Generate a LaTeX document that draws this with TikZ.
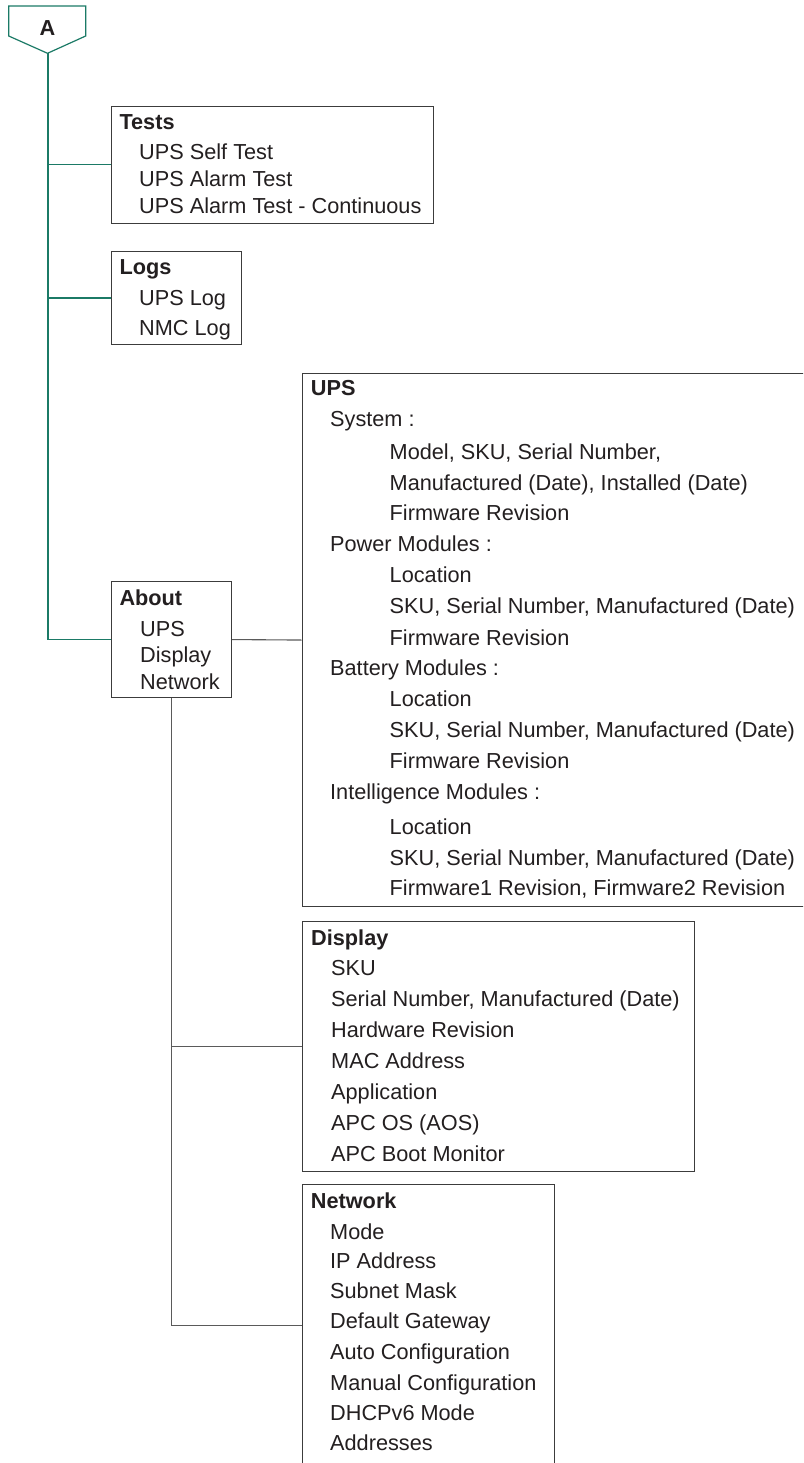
\documentclass[tikz,border=0pt]{standalone}
\usepackage{fontspec}
\setmainfont{Liberation Sans}
\definecolor{tealg}{RGB}{27,122,102}
\definecolor{txt}{RGB}{35,31,32}
\definecolor{boxc}{RGB}{60,60,60}
\definecolor{linec}{RGB}{90,90,90}
\begin{document}
\begin{tikzpicture}[x=1pt,y=-1pt,
  box/.style={draw=boxc,line width=1.1pt,inner sep=0,anchor=north west},
  lbl/.style={text=txt,inner sep=0,anchor=base west,font=\fontsize{21.7}{26}\selectfont},
  hd/.style={text=txt,inner sep=0,anchor=base west,font=\fontsize{21.7}{26}\selectfont\bfseries},
  gline/.style={draw=tealg,line width=1.2pt},
  spine/.style={draw=tealg,line width=2pt},
  kline/.style={draw=linec,line width=1.1pt}]
\useasboundingbox (0,0) rectangle (803,1463);
\clip (0,0) rectangle (803,1463);
\fill[white] (0,0) rectangle (803,1463);

% A marker
\coordinate (atip) at (47.5,53.3);
\draw[gline] (8.7,6) -- (85.7,6) -- (85.7,36) -- (atip) -- (8.7,36) -- cycle;
\node[hd,anchor=base] (alabel) at (47.5,36) {A};

% boxes
\node[box,minimum width=321.7pt,minimum height=117pt] (tests) at (111,105.7) {};
\node[box,minimum width=129.6pt,minimum height=93.6pt] (logs) at (111,250.7) {};
\node[box,minimum width=119.7pt,minimum height=116pt] (about) at (111,581) {};
\node[box,minimum width=540pt,minimum height=533.6pt] (ups) at (301.7,372.7) {};
\node[box,minimum width=391.7pt,minimum height=249.7pt] (display) at (302,921) {};
\node[box,minimum width=252.3pt,minimum height=281.4pt] (network) at (301.7,1184.3) {};

% connectors
\draw[spine] (atip) -- (atip |- about.west);
\draw[gline] (atip |- tests.west) -- (tests.west);
\draw[gline] (atip |- logs.west) -- (logs.west);
\draw[gline] (atip |- about.west) -- (about.west);
\draw[kline] (about.east) -- (ups.west);
\draw[kline] (about.south) |- (display.west);
\draw[kline] (about.south) |- (network.west);

% Tests
\node[hd]  (t0) at (119.3,129.3) {Tests};
\node[lbl] (t1) at (139,160) {UPS Self Test};
\node[lbl] (t2) at (139,186.7) {UPS Alarm Test};
\node[lbl] (t3) at (139,213.3) {UPS Alarm Test - Continuous};

% Logs
\node[hd]  (l0) at (119.3,274.3) {Logs};
\node[lbl] (l1) at (139,305) {UPS Log};
\node[lbl] (l2) at (139,335) {NMC Log};

% About
\node[hd]  (a0) at (119.3,605.7) {About};
\node[lbl] (a1) at (140,636.7) {UPS};
\node[lbl] (a2) at (140,662.7) {Display};
\node[lbl] (a3) at (140,689) {Network};

% UPS
\node[hd]  (u0) at (310.7,395.7) {UPS};
\node[lbl] (u1) at (330,426.7) {System :};
\node[lbl] (u2) at (389.5,459) {Model, SKU, Serial Number,};
\node[lbl] (u3) at (389.5,490) {Manufactured (Date), Installed (Date)};
\node[lbl] (u4) at (389.5,520) {Firmware Revision};
\node[lbl] (u5) at (330,551.7) {Power Modules :};
\node[lbl] (u6) at (389.5,582.7) {Location};
\node[lbl] (u7) at (389.5,613.5) {SKU, Serial Number, Manufactured (Date)};
\node[lbl] (u8) at (389.5,645) {Firmware Revision};
\node[lbl] (u9) at (330,675.5) {Battery Modules :};
\node[lbl] (u10) at (389.5,706.5) {Location};
\node[lbl] (u11) at (389.5,737.5) {SKU, Serial Number, Manufactured (Date)};
\node[lbl] (u12) at (389.5,768.5) {Firmware Revision};
\node[lbl] (u13) at (330,799.5) {Intelligence Modules :};
\node[lbl] (u14) at (389.5,834.5) {Location};
\node[lbl] (u15) at (389.5,865) {SKU, Serial Number, Manufactured (Date)};
\node[lbl] (u16) at (389.5,895) {Firmware1 Revision, Firmware2 Revision};

% Display
\node[hd]  (d0) at (311,945) {Display};
\node[lbl] (d1) at (331,975) {SKU};
\node[lbl] (d2) at (331,1006) {Serial Number, Manufactured (Date)};
\node[lbl] (d3) at (331,1037) {Hardware Revision};
\node[lbl] (d4) at (331,1068) {MAC Address};
\node[lbl] (d5) at (331,1099) {Application};
\node[lbl] (d6) at (331,1130) {APC OS (AOS)};
\node[lbl] (d7) at (331,1161.5) {APC Boot Monitor};

% Network
\node[hd]  (n0) at (310.7,1208.3) {Network};
\node[lbl] (n1) at (330,1239.5) {Mode};
\node[lbl] (n2) at (330,1268.5) {IP Address};
\node[lbl] (n3) at (330,1298) {Subnet Mask};
\node[lbl] (n4) at (330,1328) {Default Gateway};
\node[lbl] (n5) at (330,1359) {Auto Configuration};
\node[lbl] (n6) at (330,1390) {Manual Configuration};
\node[lbl] (n7) at (330,1420) {DHCPv6 Mode};
\node[lbl] (n8) at (330,1450) {Addresses};
\end{tikzpicture}
\end{document}
